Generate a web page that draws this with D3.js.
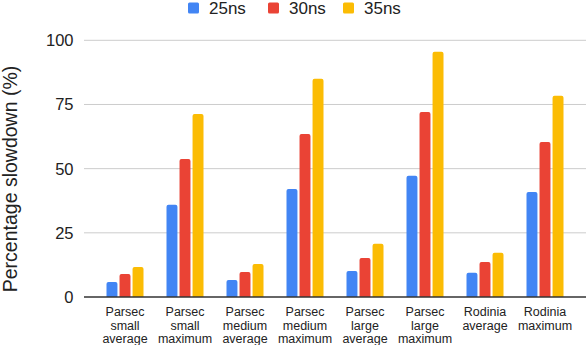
<html>
<head>
<script src="https://cdnjs.cloudflare.com/ajax/libs/d3/7.8.5/d3.min.js"></script>
<style>
  body { margin: 0; background: #fff; }
  svg { font-family: "Liberation Sans", Arial, sans-serif; }
</style>
</head>
<body>
<div id="chart"></div>
<script>
let categories = [
  ["Parsec", "small", "average"],
  ["Parsec", "small", "maximum"],
  ["Parsec", "medium", "average"],
  ["Parsec", "medium", "maximum"],
  ["Parsec", "large", "average"],
  ["Parsec", "large", "maximum"],
  ["Rodinia", "average"],
  ["Rodinia", "maximum"]
];
let seriesNames = ["25ns", "30ns", "35ns"];
let seriesColors = ["#4285f4", "#ea4335", "#fbbc04"];
let v25 = [5.8, 35.9, 6.6, 42.1, 10.1, 47.2, 9.4, 40.9];
let v30 = [9.0, 53.8, 9.7, 63.5, 15.2, 72.1, 13.6, 60.4];
let v35 = [11.7, 71.3, 12.9, 85.0, 20.7, 95.5, 17.2, 78.4];
let yTicks = [0, 25, 50, 75, 100];

let series = [v25, v30, v35];
let W = 587, H = 345;

let svg = d3.select('#chart').append('svg')
  .attr('width', W).attr('height', H);

let y = d3.scaleLinear().domain([0, 100]).range([297, 40.3]);
let x0 = d3.scaleBand().domain(d3.range(categories.length)).range([95, 575]);
let groupW = 37;
let x1 = d3.scaleBand().domain(d3.range(series.length)).range([0, groupW]).paddingInner(0.16);

// gridlines
svg.append('g').selectAll('line')
  .data(yTicks.filter(d => d > 0))
  .enter().append('line')
  .attr('x1', 84).attr('x2', 586)
  .attr('y1', d => y(d)).attr('y2', d => y(d))
  .attr('stroke', '#cccccc').attr('stroke-width', 1);

// y tick labels
svg.append('g').selectAll('text')
  .data(yTicks)
  .enter().append('text')
  .attr('x', 73.5).attr('y', d => y(d))
  .attr('dy', '0.36em')
  .attr('text-anchor', 'end')
  .attr('font-size', 16.5)
  .attr('fill', '#222')
  .text(d => d);

// bars with rounded tops
function barPath(x, top, w, bottom) {
  let r = Math.min(2, (bottom - top) / 2);
  return 'M' + x + ',' + bottom +
    'V' + (top + r) +
    'Q' + x + ',' + top + ' ' + (x + r) + ',' + top +
    'H' + (x + w - r) +
    'Q' + (x + w) + ',' + top + ' ' + (x + w) + ',' + (top + r) +
    'V' + bottom + 'Z';
}

let groups = svg.append('g').selectAll('g')
  .data(categories)
  .enter().append('g')
  .attr('transform', (d, i) => 'translate(' + (x0(i) + (x0.bandwidth() - groupW) / 2) + ',0)');

groups.selectAll('path')
  .data((d, i) => series.map((s, j) => ({ j: j, v: s[i] })))
  .enter().append('path')
  .attr('d', d => barPath(x1(d.j), y(d.v), x1.bandwidth(), y(0)))
  .attr('fill', d => seriesColors[d.j]);

// baseline
svg.append('line')
  .attr('x1', 84).attr('x2', 586)
  .attr('y1', y(0)).attr('y2', y(0))
  .attr('stroke', '#333').attr('stroke-width', 1.3);

// x labels
let xl = svg.append('g').selectAll('text')
  .data(categories)
  .enter().append('text')
  .attr('text-anchor', 'middle')
  .attr('font-size', 12.5)
  .attr('fill', '#222')
  .attr('x', (d, i) => x0(i) + x0.bandwidth() / 2);
xl.selectAll('tspan')
  .data(d => d)
  .enter().append('tspan')
  .attr('x', function() { return this.parentNode.getAttribute('x'); })
  .attr('y', (d, k) => 316 + k * 13.5)
  .text(d => d);

// y axis title
svg.append('text')
  .attr('transform', 'translate(16.5,179) rotate(-90)')
  .attr('text-anchor', 'middle')
  .attr('font-size', 19.5)
  .attr('fill', '#222')
  .text('Percentage slowdown (%)');

// legend
let legendX = [188, 268, 343];
let legend = svg.append('g').selectAll('g')
  .data(seriesNames)
  .enter().append('g')
  .attr('transform', (d, i) => 'translate(' + legendX[i] + ',0)');
legend.append('rect')
  .attr('x', 0).attr('y', 2.5).attr('width', 11).attr('height', 11).attr('rx', 1.5)
  .attr('fill', (d, i) => seriesColors[i]);
legend.append('text')
  .attr('x', 21).attr('y', 14)
  .attr('font-size', 17)
  .attr('fill', '#222')
  .text(d => d);
</script>
</body>
</html>
